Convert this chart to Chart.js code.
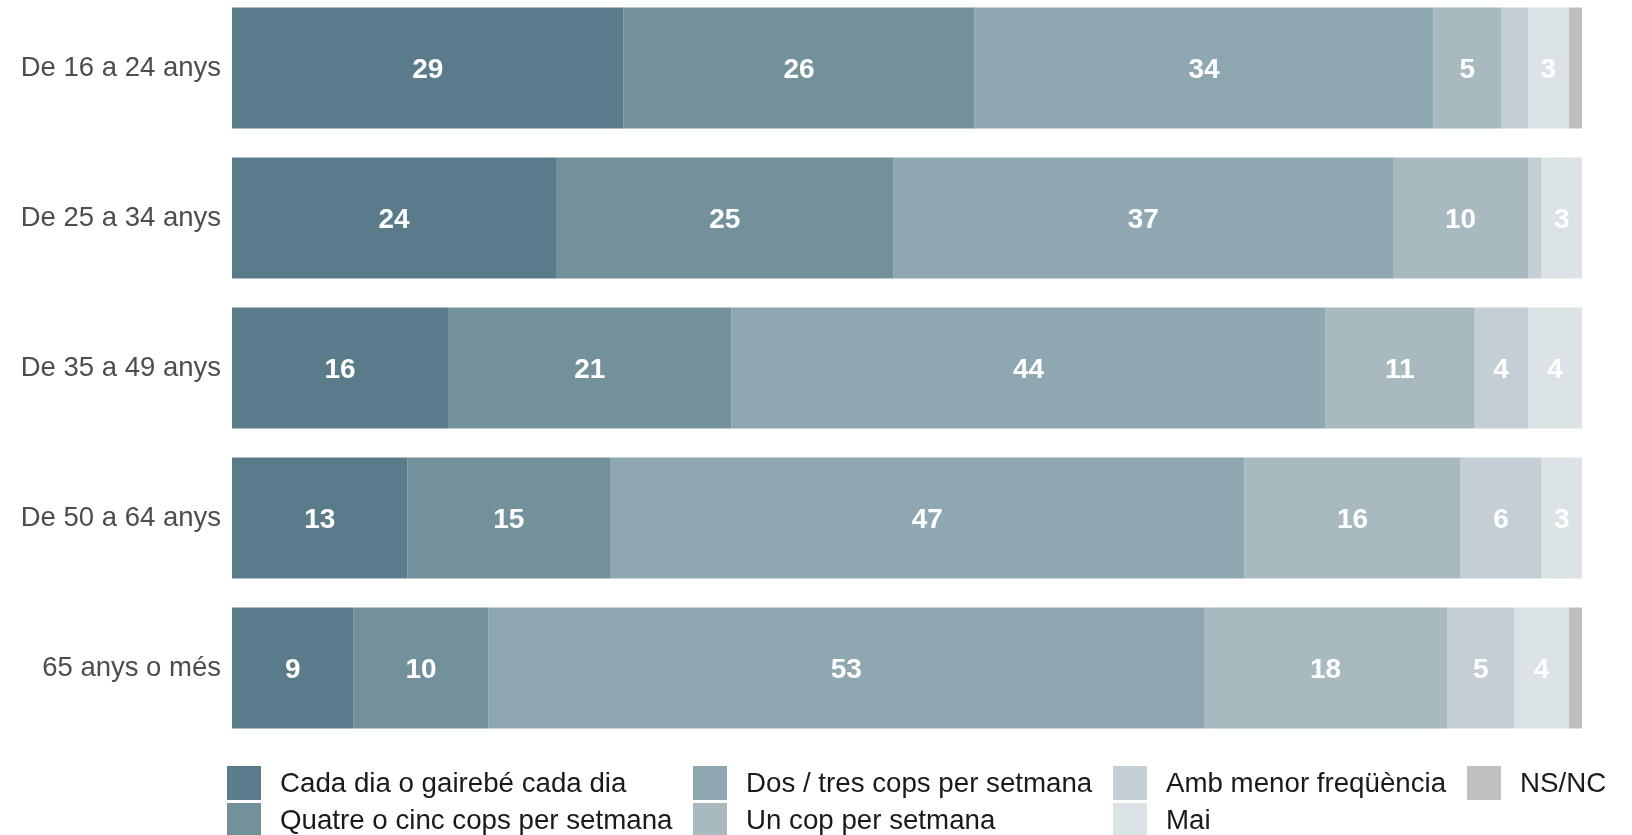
<!DOCTYPE html>
<html lang="ca">
<head>
<meta charset="utf-8">
<title>Freqüència per edat</title>
<script src="https://cdn.jsdelivr.net/npm/chart.js@4.4.1/dist/chart.umd.min.js"></script>
<style>
  html, body { margin: 0; padding: 0; background: #fff; overflow: hidden; }
  body { width: 1632px; height: 835px; position: relative; font-family: "Liberation Sans", Arial, sans-serif; }
  #chart { position: absolute; left: 0; top: -7px; }
  #legend { position: absolute; left: 0; top: 0; width: 1632px; height: 835px; pointer-events: none; }
  .lg-item { position: absolute; display: flex; align-items: center; height: 34px; }
  .lg-box { width: 34px; height: 34px; margin-right: 19px; }
  .lg-text { font-size: 27.7px; color: #1a1a1a; white-space: nowrap; }
</style>
</head>
<body>
<canvas id="chart" width="1632" height="750"></canvas>
<div id="legend"></div>
<script>
// ==== data ====
const ageGroups = ["De 16 a 24 anys", "De 25 a 34 anys", "De 35 a 49 anys", "De 50 a 64 anys", "65 anys o més"];

const seriesNames = [
  "Cada dia o gairebé cada dia",
  "Quatre o cinc cops per setmana",
  "Dos / tres cops per setmana",
  "Un cop per setmana",
  "Amb menor freqüència",
  "Mai",
  "NS/NC"
];

const cadaDia    = [29, 24, 16, 13, 9];
const quatreCinc = [26, 25, 21, 15, 10];
const dosTres    = [34, 37, 44, 47, 53];
const unCop      = [5, 10, 11, 16, 18];
const ambMenor   = [2, 1, 4, 6, 5];
const mai        = [3, 3, 4, 3, 4];
const nsnc       = [1, 0, 0, 0, 1];

const xTicks = [0, 100]; // eix ocult, escala 0-100 %

// ==== estil ====
const COLORS = ["#5a7b8a", "#73919b", "#8fa7b0", "#a8b9c0", "#c3cfd4", "#dce3e6", "#bfbfbf"];
const FONT = '"Liberation Sans", Arial, sans-serif';
const LABEL_MIN = 3;   // només s'etiqueten els trams de 3 o més

// llegenda: per columnes, 2 files
const LEGEND_COLS = [227, 693, 1113, 1467];
const LEGEND_ROWS = [766, 803];

const allSeries = [cadaDia, quatreCinc, dosTres, unCop, ambMenor, mai, nsnc];

// etiquetes blanques dins de cada tram
const barLabels = {
  id: "barLabels",
  afterDatasetsDraw(chart) {
    const ctx = chart.ctx;
    ctx.save();
    ctx.font = `bold 28px ${FONT}`;
    ctx.fillStyle = "#ffffff";
    ctx.textAlign = "center";
    ctx.textBaseline = "middle";
    chart.data.datasets.forEach((ds, i) => {
      const meta = chart.getDatasetMeta(i);
      meta.data.forEach((bar, j) => {
        const v = ds.data[j];
        if (v < LABEL_MIN) return;
        const p = bar.getCenterPoint();
        ctx.fillText(String(v), p.x, p.y + 2);
      });
    });
    ctx.restore();
  }
};

const chart = new Chart(document.getElementById("chart").getContext("2d"), {
  type: "bar",
  data: {
    labels: ageGroups,
    datasets: allSeries.map((data, i) => ({
      label: seriesNames[i],
      data,
      backgroundColor: COLORS[i],
      borderWidth: 0,
      barPercentage: 0.807,
      categoryPercentage: 1
    }))
  },
  options: {
    indexAxis: "y",
    responsive: false,
    animation: false,
    devicePixelRatio: 1,
    layout: { padding: { left: 0, right: 50, top: 0, bottom: 0 } },
    scales: {
      x: {
        stacked: true,
        min: xTicks[0],
        max: xTicks[1],
        display: false
      },
      y: {
        stacked: true,
        grid: { display: false, drawTicks: false },
        border: { display: false },
        ticks: {
          color: "#4d4d4d",
          padding: 11,
          font: { family: FONT, size: 27.5 }
        },
        afterFit(scale) {
          // ample fix i sense marge extra a dalt/baix
          scale.width = 232;
          scale.paddingTop = 0;
          scale.paddingBottom = 0;
        }
      }
    },
    plugins: {
      legend: { display: false },
      tooltip: { enabled: false }
    }
  },
  plugins: [barLabels]
});

// llegenda HTML (ordre per columnes, com l'original)
function buildLegend() {
  const box = document.getElementById("legend");
  chart.data.datasets.forEach((ds, i) => {
    const col = Math.floor(i / 2);
    const row = i % 2;
    const item = document.createElement("div");
    item.className = "lg-item";
    item.style.left = LEGEND_COLS[col] + "px";
    item.style.top = LEGEND_ROWS[row] + "px";
    item.innerHTML = `<div class="lg-box" style="background:${ds.backgroundColor}"></div><span class="lg-text">${ds.label}</span>`;
    box.appendChild(item);
  });
}
buildLegend();
</script>
</body>
</html>
